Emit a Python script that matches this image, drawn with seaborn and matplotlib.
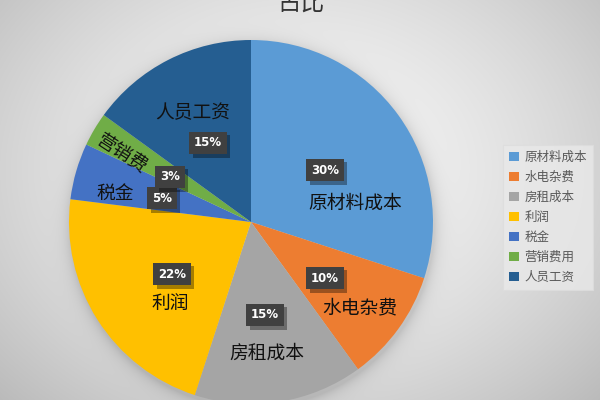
import numpy as np
import matplotlib
matplotlib.use("Agg")
import matplotlib.pyplot as plt
import matplotlib.patheffects as pe
import seaborn as sns

sns.set_style("white")
plt.rcParams['font.family'] = ['Noto Sans CJK SC', 'DejaVu Sans']

# ---- data ----
categories = ["原材料成本", "水电杂费", "房租成本", "利润", "税金", "营销费用", "人员工资"]
slice_labels = ["原材料成本", "水电杂费", "房租成本", "利润", "税金", "营销费", "人员工资"]
values = [30, 10, 15, 22, 5, 3, 15]
title = "占比"

colors = sns.color_palette(["#5B9BD5", "#ED7D31", "#A5A5A5", "#FFC000",
                            "#4472C4", "#70AD47", "#255E91"])

W, H = 600, 400
fig = plt.figure(figsize=(6, 4), dpi=100)

# ---- background (radial gradient + soft pie shadow) ----
cx, cy, R = 251, 222, 182
yy, xx = np.mgrid[0:H, 0:W]
d = np.sqrt(((xx - 300) / 330.0) ** 2 + ((yy - 170) / 260.0) ** 2)
bg = 0.965 - 0.16 * np.clip(d, 0, 1.4) ** 1.6
dp = np.sqrt((xx - cx - 1) ** 2 + (yy - cy - 3) ** 2)
shadow = np.where(dp > R, 0.12 * np.exp(-(dp - R) / 7.0), 0.12)
bg = np.clip(bg - shadow, 0, 1)
bgax = fig.add_axes([0, 0, 1, 1], zorder=0)
bgax.imshow(np.dstack([bg, bg, bg]), extent=[0, W, H, 0], aspect="auto",
            interpolation="bilinear")
bgax.set_xlim(0, W)
bgax.set_ylim(H, 0)
bgax.axis("off")

# ---- pie ----
ax = fig.add_axes([(cx - R) / W, (H - cy - R) / H, 2 * R / W, 2 * R / H], zorder=2)
ax.set_facecolor("none")
wedges, _ = ax.pie(values, colors=colors, startangle=90, counterclock=False,
                   radius=1.0, wedgeprops=dict(linewidth=0))
ax.set_xlim(-1, 1)
ax.set_ylim(-1, 1)
ax.axis("off")

# label positions (pixel coords in the figure)
pct_pos = [(325, 170), (325, 278), (265, 315), (172, 274), (162, 198), (170, 177), (208, 143)]
name_pos = [(355, 203), (360, 308), (267, 353), (170, 303), (115, 193), (122, 153), (193, 113)]
name_rot = [0, 0, 0, 0, 0, -33, 0]

def to_data(p):
    return ((p[0] - cx) / R, (cy - p[1]) / R)

total = sum(values)
for v, lab, pp, npos, rot in zip(values, slice_labels, pct_pos, name_pos, name_rot):
    txt = f"{round(100 * v / total)}%"
    x, y = to_data(pp)
    t = ax.text(x, y, txt, ha="center", va="center", fontsize=8.5, fontweight="bold",
                color="white", family="DejaVu Sans",
                bbox=dict(boxstyle="square,pad=0.4", fc="#404040", ec="none"))
    t.get_bbox_patch().set_path_effects([
        pe.SimplePatchShadow(offset=(2.5, -2.5), shadow_rgbFace="black", alpha=0.35),
        pe.Normal()])
    nx, ny = to_data(npos)
    ax.text(nx, ny, lab, ha="center", va="center", fontsize=13.5, color="#111111",
            rotation=rot, rotation_mode="anchor")

# ---- title (cut at the top edge, as in the reference) ----
fig.text(301 / W, 1 - 4 / H, title, ha="center", va="center", fontsize=17,
         color="#333333", zorder=3)

# ---- legend ----
leg = fig.legend(wedges, categories, loc="upper left",
                 bbox_to_anchor=(503 / W, 1 - 145 / H), borderaxespad=0,
                 fontsize=9, frameon=True, fancybox=False,
                 handlelength=0.75, handleheight=0.75, handletextpad=0.45,
                 labelspacing=0.55, borderpad=0.5, labelcolor="#595959")
leg.get_frame().set_facecolor("#e9e9e9")
leg.get_frame().set_edgecolor("#dddddd")
leg.get_frame().set_linewidth(0.8)
leg.set_zorder(3)

fig.savefig("out.png", dpi=100)
